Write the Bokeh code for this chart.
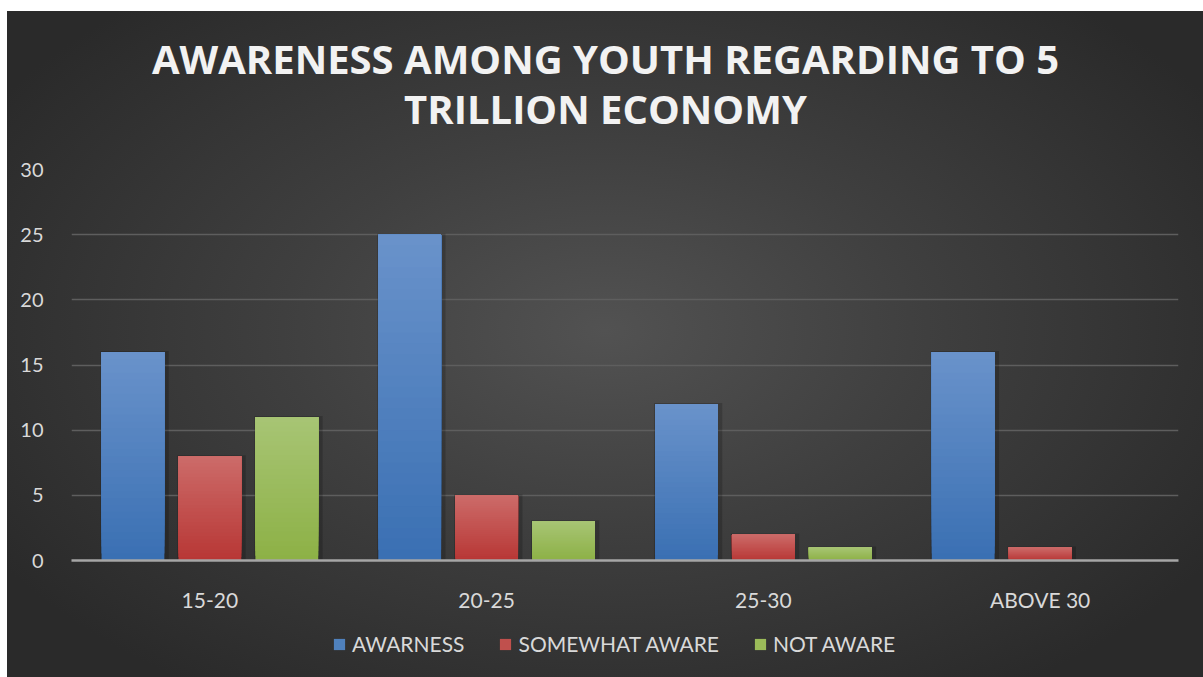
from bokeh.plotting import figure
from bokeh.layouts import column
from bokeh.models import FactorRange, Range1d, Legend, LegendItem, Label, SingleIntervalTicker
from bokeh.transform import dodge
from bokeh.embed import file_html
from bokeh.resources import INLINE

categories = ["15-20", "20-25", "25-30", "ABOVE 30"]
series_names = ["AWARNESS", "SOMEWHAT AWARE", "NOT AWARE"]
awarness = [16, 25, 12, 16]
somewhat_aware = [8, 5, 2, 1]
not_aware = [11, 3, 1, 0]
y_ticks_interval = 5
title_lines = ["AWARENESS AMONG YOUTH REGARDING TO 5", "TRILLION ECONOMY"]

series_values = [awarness, somewhat_aware, not_aware]
top_colors = [(106, 147, 203), (205, 108, 106), (168, 197, 117)]
bottom_colors = [(58, 112, 179), (184, 55, 53), (141, 177, 70)]
mid_colors = ["#4f81bd", "#c0504d", "#9bbb59"]
offsets = [-0.278, 0.0, 0.278]
bar_w = 0.227

def strip(height):
    f = figure(width=1196, height=height, output_backend="svg", toolbar_location=None,
               x_axis_type=None, y_axis_type=None, min_border=0,
               x_range=Range1d(0, 1), y_range=Range1d(0, 1))
    f.background_fill_alpha = 0
    f.border_fill_alpha = 0
    f.outline_line_color = None
    f.grid.grid_line_color = None
    return f

# title strip
tf = strip(130)
for line, ys in zip(title_lines, [83, 33]):
    tf.add_layout(Label(x=534, y=ys, x_units="screen", y_units="screen", text=line,
                        text_align="center", text_baseline="middle",
                        text_font="Open Sans", text_font_style="bold", text_font_size="40px",
                        text_color="#f2f2f2"))

p = figure(width=1196, height=490, x_range=FactorRange(factors=categories, range_padding=0),
           y_range=Range1d(0, 30), output_backend="svg", toolbar_location=None,
           min_border_left=64, min_border_right=25, min_border_top=28, min_border_bottom=71)
p.background_fill_alpha = 0
p.border_fill_alpha = 0
p.outline_line_color = None

N = 30
for si, vals in enumerate(series_values):
    p.vbar(x=dodge("x", offsets[si] + 0.006, range=p.x_range), top="top", width=bar_w + 0.02,
           source={"x": categories, "top": [v + 0.08 if v > 0 else 0 for v in vals]},
           fill_color="black", fill_alpha=0.18, line_color=None)
    tc, bc = top_colors[si], bottom_colors[si]
    for k in range(N):
        f = (k + 0.5) / N
        col = tuple(int(bc[c] + (tc[c] - bc[c]) * f) for c in range(3))
        p.vbar(x=dodge("x", offsets[si], range=p.x_range), width=bar_w,
               bottom="b", top="t",
               source={"x": categories, "b": [v * k / N for v in vals], "t": vals},
               fill_color="#%02x%02x%02x" % col, line_color=None)

p.xaxis.axis_line_color = "#a6a6a6"
p.xaxis.axis_line_width = 2.5
p.xaxis.major_tick_line_color = None
p.xaxis.minor_tick_line_color = None
p.xaxis.major_label_text_font = "Lato"
p.xaxis.major_label_text_font_size = "21px"
p.xaxis.major_label_text_color = "#d9d9d9"
p.xaxis.major_label_standoff = 20

p.yaxis.ticker = SingleIntervalTicker(interval=y_ticks_interval)
p.yaxis.axis_line_color = None
p.yaxis.major_tick_line_color = None
p.yaxis.minor_tick_line_color = None
p.yaxis.major_label_text_font = "Lato"
p.yaxis.major_label_text_font_size = "20px"
p.yaxis.major_label_text_color = "#d9d9d9"
p.yaxis.major_label_standoff = 22

p.xgrid.grid_line_color = None
p.ygrid.ticker = SingleIntervalTicker(interval=y_ticks_interval)
p.ygrid.grid_line_color = "#5e5e5e"
p.ygrid.grid_line_width = 1.5

# legend strip
lg = strip(46)
items = []
for si, name in enumerate(series_names):
    r = lg.quad(left=[-10], right=[-9], top=[-9], bottom=[-10], fill_color=mid_colors[si], line_color=None)
    items.append(LegendItem(label=name, renderers=[r]))
legend = Legend(items=items, orientation="horizontal", location=(261, 21),
                label_text_font="Lato", label_text_font_size="21px", label_text_color="#d9d9d9",
                glyph_width=14, glyph_height=14, label_standoff=6, spacing=34,
                background_fill_alpha=0, border_line_color=None, padding=0, margin=0)
lg.add_layout(legend)

layout = column(tf, p, lg, spacing=0)
layout.margin = (11, 0, 0, 7)
layout.styles = {"background": "radial-gradient(ellipse 60% 65% at 50% 48%, #525252 0%, #3f3f3f 45%, #2a2a2a 100%)"}

open("out.html", "w").write(file_html(layout, INLINE))
